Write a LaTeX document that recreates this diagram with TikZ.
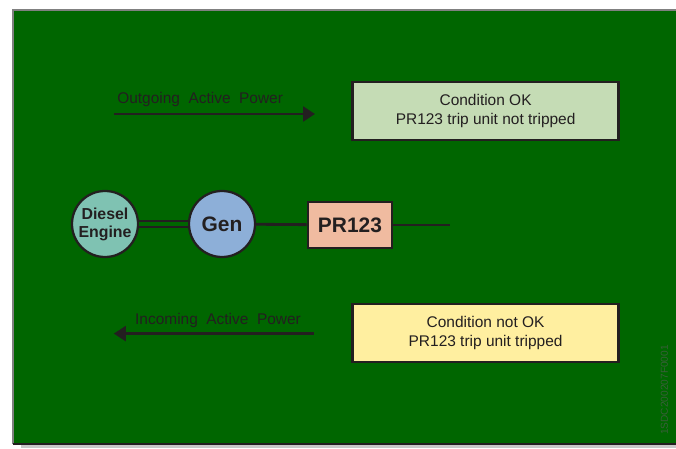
\documentclass[tikz,border=0pt]{standalone}
\usepackage{fontspec}
\setmainfont{Liberation Sans}
\usepackage{tikz}
\usetikzlibrary{arrows.meta}
\definecolor{envGreen}{HTML}{006600}
\definecolor{lineDark}{HTML}{231F20}
\definecolor{okFill}{HTML}{C5DCB5}
\definecolor{tripFill}{HTML}{FFEFA0}
\definecolor{relayFill}{HTML}{F0BBA0}
\definecolor{dieselFill}{HTML}{7FC2B2}
\definecolor{genFill}{HTML}{8DAFD8}
\definecolor{codeGreen}{HTML}{3A5E3A}
\definecolor{panelShadow}{HTML}{C8C8C8}

\begin{document}
\begin{tikzpicture}[
  lbl/.style={font=\fontsize{11}{13}\selectfont, text=lineDark, inner sep=0pt},
  cond/.style={draw=lineDark, line width=2pt, align=center, minimum width=6.65cm,
              minimum height=1.45cm, font=\fontsize{11}{13.5}\selectfont, text=lineDark},
  mach/.style={circle, draw=lineDark, line width=1.6pt, minimum size=1.65cm, inner sep=0pt,
              align=center, text=lineDark},
  relay/.style={draw=lineDark, line width=2pt, fill=relayFill, minimum width=2.1cm,
              minimum height=1.15cm, font=\fontsize{14.9}{17}\selectfont\bfseries, text=lineDark},
  pw/.style={-{Triangle[length=8.5pt,width=10.5pt]}, draw=lineDark, line width=2pt},
  bus/.style={draw=lineDark, line width=2pt}
]
\useasboundingbox (0,0) rectangle (16.9,11.2);

% ---- panel
\fill[panelShadow] (0.525,0) rectangle (16.9,0.1);
\fill[envGreen] (0.325,0.1) rectangle (16.9,10.95);
\draw[draw=gray, line width=0.8pt] (0.325,0.1) -- (0.325,10.95) -- (16.9,10.95);
\draw[draw=lineDark, line width=1pt] (0.325,0.1) -- (16.9,0.1);

% ---- outgoing power
\coordinate (outA) at (2.86,8.35);
\coordinate (outB) at (7.875,8.35);
\draw[pw] (outA) -- (outB);
\node[lbl, anchor=base west] (outL) at (2.925,8.6) {Outgoing\hspace{0.55em}Active\hspace{0.55em}Power};
\node[cond, fill=okFill] (ok) at (12.14,8.425) {Condition OK\\PR123 trip unit not tripped};

% ---- machine line
\node[mach, fill=dieselFill, font=\fontsize{11.3}{12.8}\selectfont\bfseries] (de) at (2.625,5.6) {Diesel\\Engine};
\node[mach, fill=genFill, font=\fontsize{14.9}{17}\selectfont\bfseries] (gen) at (5.55,5.6) {Gen};
\node[relay] (pr) at (8.75,5.575) {PR123};
\coordinate (busEnd) at (11.25,5.575);
\draw[draw=lineDark, line width=1.4pt, double=envGreen, double distance=2.2pt] (de) -- (gen);
\draw[bus] (gen) -- (pr);
\draw[bus] (pr) -- (busEnd);

% ---- incoming power
\coordinate (inA) at (7.84,2.86);
\coordinate (inB) at (2.845,2.86);
\draw[pw] (inA) -- (inB);
\node[lbl, anchor=base] (inL) at (5.45,3.09) {Incoming\hspace{0.55em}Active\hspace{0.55em}Power};
\node[cond, fill=tripFill] (trip) at (12.14,2.875) {Condition not OK\\PR123 trip unit tripped};

% ---- drawing code
\node[rotate=90, font=\fontsize{7.2}{8}\selectfont, text=codeGreen] (code) at (16.61,1.45) {1SDC200207F0001};
\end{tikzpicture}
\end{document}
